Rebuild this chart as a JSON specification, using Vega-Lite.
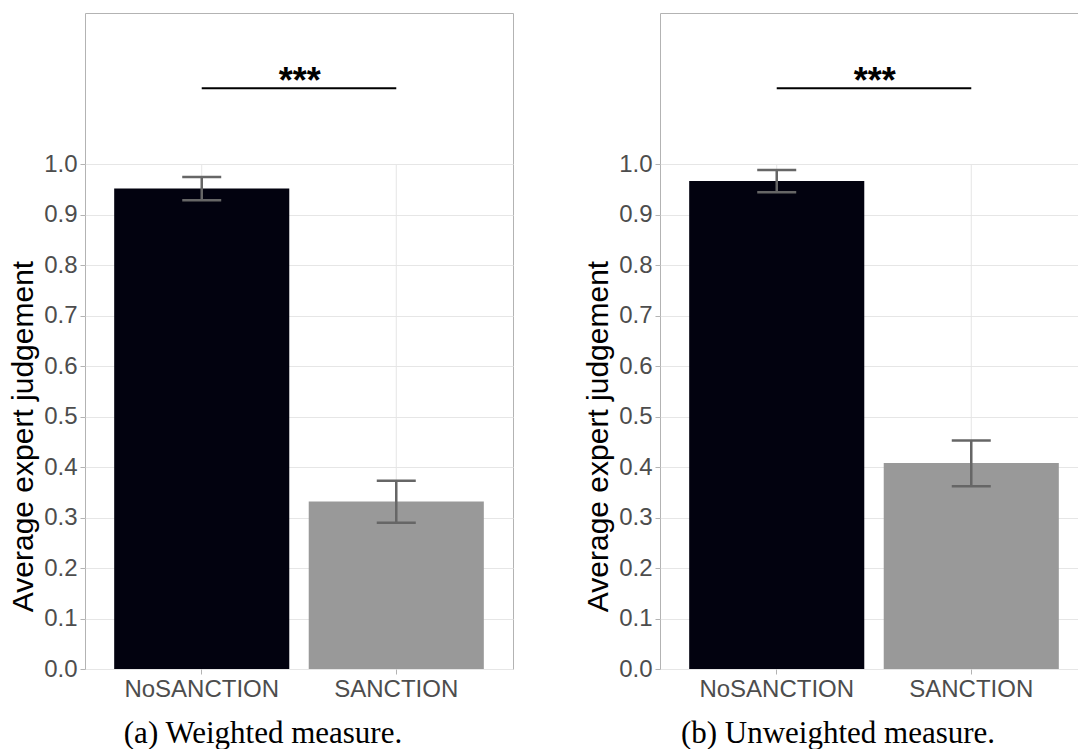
{
  "$schema": "https://vega.github.io/schema/vega-lite/v6.json",
  "padding": {"left": 8, "top": 12, "right": 0, "bottom": 0},
  "background": "white",
  "spacing": 69,
  "datasets": {
    "weighted": [
      {"group": "NoSANCTION", "mean": 0.952, "lo": 0.929, "hi": 0.975},
      {"group": "SANCTION", "mean": 0.332, "lo": 0.290, "hi": 0.373}
    ],
    "unweighted": [
      {"group": "NoSANCTION", "mean": 0.967, "lo": 0.945, "hi": 0.989},
      {"group": "SANCTION", "mean": 0.408, "lo": 0.362, "hi": 0.453}
    ],
    "signif": [
      {"from": "NoSANCTION", "to": "SANCTION", "y_position": 1.151, "label": "***"}
    ]
  },
  "config": {
    "font": "Liberation Sans",
    "view": {"stroke": "#b3b3b3", "strokeWidth": 1},
    "axis": {
      "labelFont": "Liberation Sans",
      "labelFontSize": 24,
      "labelColor": "#4d4d4d",
      "labelPadding": 3,
      "tickSize": 5,
      "tickColor": "#b3b3b3",
      "tickWidth": 1,
      "domain": false,
      "gridColor": "#e6e6e6",
      "gridWidth": 1,
      "titleFont": "Liberation Sans",
      "titleFontSize": 30,
      "titleFontWeight": "normal",
      "titleColor": "#000000"
    },
    "axisY": {"grid": true, "titlePadding": 5, "titleY": 423},
    "axisX": {"labelAngle": 0, "grid": false},
    "title": {
      "font": "Liberation Serif",
      "fontSize": 31,
      "fontWeight": "normal",
      "color": "#000000"
    }
  },
  "hconcat": [
    {
      "width": 428,
      "height": 656,
      "title": {"text": "(a) Weighted measure.", "orient": "bottom", "anchor": "middle", "dx": -36, "offset": 18},
      "data": {"name": "weighted"},
      "encoding": {
        "x": {
          "field": "group", "type": "nominal", "title": null,
          "scale": {"paddingInner": 0.1, "paddingOuter": 0.15}
        }
      },
      "layer": [
        {
          "mark": {"type": "rule", "color": "#e6e6e6", "strokeWidth": 1},
          "encoding": {
            "y": {"datum": 0, "type": "quantitative", "title": "Average expert judgement"},
            "y2": {"datum": 1}
          }
        },
        {
          "mark": {"type": "bar"},
          "encoding": {
            "y": {
              "field": "mean", "type": "quantitative", "title": "Average expert judgement",
              "scale": {"domain": [0, 1.3], "nice": false},
              "axis": {"values": [0, 0.1, 0.2, 0.3, 0.4, 0.5, 0.6, 0.7, 0.8, 0.9, 1.0], "format": ".1f"}
            },
            "color": {
              "field": "group", "type": "nominal",
              "scale": {"domain": ["NoSANCTION", "SANCTION"], "range": ["#02020f", "#999999"]},
              "legend": null
            }
          }
        },
        {
          "mark": {"type": "rule", "color": "#666666", "strokeWidth": 2.5},
          "encoding": {
            "y": {"field": "lo", "type": "quantitative", "title": "Average expert judgement"},
            "y2": {"field": "hi"}
          }
        },
        {
          "mark": {"type": "tick", "color": "#666666", "thickness": 2.5, "size": 39, "opacity": 1},
          "encoding": {"y": {"field": "lo", "type": "quantitative", "title": "Average expert judgement"}}
        },
        {
          "mark": {"type": "tick", "color": "#666666", "thickness": 2.5, "size": 39, "opacity": 1},
          "encoding": {"y": {"field": "hi", "type": "quantitative", "title": "Average expert judgement"}}
        },
        {
          "data": {"name": "signif"},
          "mark": {"type": "rule", "color": "#000000", "strokeWidth": 2},
          "encoding": {
            "x": {"field": "from", "type": "nominal", "title": null},
            "x2": {"field": "to"},
            "y": {"field": "y_position", "type": "quantitative", "title": "Average expert judgement"}
          }
        },
        {
          "data": {"name": "signif"},
          "mark": {"type": "text", "fontSize": 36, "fontWeight": "bold", "dx": 98, "dy": 5, "baseline": "alphabetic", "align": "center", "color": "#000000", "font": "Liberation Sans"},
          "encoding": {
            "x": {"field": "from", "type": "nominal", "title": null},
            "y": {"field": "y_position", "type": "quantitative", "title": "Average expert judgement"},
            "text": {"field": "label"}
          }
        }
      ]
    },
    {
      "width": 428,
      "height": 656,
      "title": {"text": "(b) Unweighted measure.", "orient": "bottom", "anchor": "middle", "dx": -36, "offset": 18},
      "data": {"name": "unweighted"},
      "encoding": {
        "x": {
          "field": "group", "type": "nominal", "title": null,
          "scale": {"paddingInner": 0.1, "paddingOuter": 0.15}
        }
      },
      "layer": [
        {
          "mark": {"type": "rule", "color": "#e6e6e6", "strokeWidth": 1},
          "encoding": {
            "y": {"datum": 0, "type": "quantitative", "title": "Average expert judgement"},
            "y2": {"datum": 1}
          }
        },
        {
          "mark": {"type": "bar"},
          "encoding": {
            "y": {
              "field": "mean", "type": "quantitative", "title": "Average expert judgement",
              "scale": {"domain": [0, 1.3], "nice": false},
              "axis": {"values": [0, 0.1, 0.2, 0.3, 0.4, 0.5, 0.6, 0.7, 0.8, 0.9, 1.0], "format": ".1f"}
            },
            "color": {
              "field": "group", "type": "nominal",
              "scale": {"domain": ["NoSANCTION", "SANCTION"], "range": ["#02020f", "#999999"]},
              "legend": null
            }
          }
        },
        {
          "mark": {"type": "rule", "color": "#666666", "strokeWidth": 2.5},
          "encoding": {
            "y": {"field": "lo", "type": "quantitative", "title": "Average expert judgement"},
            "y2": {"field": "hi"}
          }
        },
        {
          "mark": {"type": "tick", "color": "#666666", "thickness": 2.5, "size": 39, "opacity": 1},
          "encoding": {"y": {"field": "lo", "type": "quantitative", "title": "Average expert judgement"}}
        },
        {
          "mark": {"type": "tick", "color": "#666666", "thickness": 2.5, "size": 39, "opacity": 1},
          "encoding": {"y": {"field": "hi", "type": "quantitative", "title": "Average expert judgement"}}
        },
        {
          "data": {"name": "signif"},
          "mark": {"type": "rule", "color": "#000000", "strokeWidth": 2},
          "encoding": {
            "x": {"field": "from", "type": "nominal", "title": null},
            "x2": {"field": "to"},
            "y": {"field": "y_position", "type": "quantitative", "title": "Average expert judgement"}
          }
        },
        {
          "data": {"name": "signif"},
          "mark": {"type": "text", "fontSize": 36, "fontWeight": "bold", "dx": 98, "dy": 5, "baseline": "alphabetic", "align": "center", "color": "#000000", "font": "Liberation Sans"},
          "encoding": {
            "x": {"field": "from", "type": "nominal", "title": null},
            "y": {"field": "y_position", "type": "quantitative", "title": "Average expert judgement"},
            "text": {"field": "label"}
          }
        }
      ]
    }
  ]
}
